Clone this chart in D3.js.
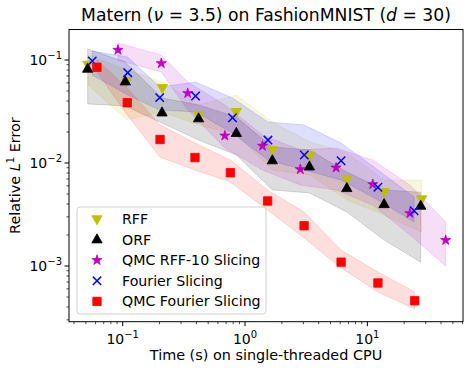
<!DOCTYPE html>
<html>
<head>
<meta charset="utf-8" />
<title>Matern on FashionMNIST</title>
<script src="https://d3js.org/d3.v7.min.js"></script>
<style>
  body { margin: 0; padding: 0; background: #fff; }
  svg text { font-family: "DejaVu Sans", sans-serif; fill: #000; }
</style>
</head>
<body>
<div id="chart"></div>
<script>

// values (time in s, relative L1 error)
const rffTime = [0.052, 0.108, 0.211, 0.418, 0.849, 1.68, 3.40, 6.82, 13.7, 27.8]
const rffErr  = [0.0904, 0.0630, 0.0538, 0.0292, 0.0315, 0.01337, 0.01183, 0.0070, 0.00526, 0.00447]
const rffLo   = [0.0572, 0.0262, 0.0313, 0.0234, 0.0187, 0.00855, 0.00765, 0.00437, 0.00313, 0.00214]
const rffHi   = [0.112, 0.080, 0.0612, 0.0366, 0.0457, 0.0250, 0.0160, 0.0125, 0.00684, 0.00684]

const orfTime = [0.0517, 0.105, 0.2096, 0.417, 0.849, 1.672, 3.36, 6.79, 13.7, 27.3]
const orfErr  = [0.0818, 0.0616, 0.0308, 0.0270, 0.01947, 0.01057, 0.00921, 0.00568, 0.00397, 0.00383]
const orfLo   = [0.0374, 0.0358, 0.0245, 0.0167, 0.01197, 0.00547, 0.00512, 0.00334, 0.00179, 0.00109]
const orfHi   = [0.128, 0.0956, 0.0428, 0.0366, 0.0280, 0.0143, 0.01337, 0.00818, 0.00547, 0.0052]

const qrffTime = [0.0915, 0.2068, 0.340, 0.684, 1.39, 2.83, 5.55, 11.07, 22.3, 43.7]
const qrffErr  = [0.125, 0.0928, 0.0475, 0.0184, 0.01463, 0.00868, 0.0090, 0.00621, 0.00325, 0.00178]
const qrffLo   = [0.100, 0.0765, 0.0327, 0.0140, 0.00855, 0.00611, 0.00547, 0.00391, 0.00200, 0.00100]
const qrffHi   = [0.146, 0.112, 0.0612, 0.0366, 0.0187, 0.01337, 0.0140, 0.01069, 0.00611, 0.00267]

const fsTime = [0.0564, 0.1099, 0.2007, 0.394, 0.790, 1.54, 3.05, 6.10, 12.2, 24.1]
const fsErr  = [0.0978, 0.0753, 0.0431, 0.0447, 0.0275, 0.0167, 0.01197, 0.01052, 0.00581, 0.00344]
const fsLo   = [0.0715, 0.0457, 0.0327, 0.0313, 0.01956, 0.01069, 0.00855, 0.00684, 0.00437, 0.00267]
const fsHi   = [0.122, 0.107, 0.0547, 0.0612, 0.0428, 0.0250, 0.0234, 0.01563, 0.00855, 0.00468]

const qfsTime = [0.0616, 0.109, 0.202, 0.390, 0.759, 1.53, 3.04, 6.10, 12.2, 24.4]
const qfsErr  = [0.0849, 0.0385, 0.0169, 0.0113, 0.00805, 0.00428, 0.00246, 0.00109, 0.000684, 0.00046]
const qfsLo   = [0.0765, 0.0292, 0.0114, 0.00855, 0.00654, 0.00350, 0.00187, 0.000957, 0.000560, 0.000383]
const qfsHi   = [0.100, 0.0535, 0.0234, 0.01563, 0.01069, 0.00547, 0.00334, 0.00143, 0.000875, 0.000560]

const xTicks = [0.1, 1, 10]
const xTickExp = ['−1', '0', '1']
const yTicks = [0.1, 0.01, 0.001]
const yTickExp = ['−1', '−2', '−3']

const series = [
  {name: 'RFF', t: rffTime, e: rffErr, lo: rffLo, hi: rffHi, color: '#bfbf00', marker: 'down'},
  {name: 'ORF', t: orfTime, e: orfErr, lo: orfLo, hi: orfHi, color: '#000000', marker: 'up'},
  {name: 'QMC RFF-10 Slicing', t: qrffTime, e: qrffErr, lo: qrffLo, hi: qrffHi, color: '#bf00bf', marker: 'star'},
  {name: 'Fourier Slicing', t: fsTime, e: fsErr, lo: fsLo, hi: fsHi, color: '#0000ff', marker: 'x'},
  {name: 'QMC Fourier Slicing', t: qfsTime, e: qfsErr, lo: qfsLo, hi: qfsHi, color: '#ff0000', marker: 'square'}
]

const W = 472, H = 372
const margin = {top: 29.5, right: 9, bottom: 50.3, left: 69}
const width = W - margin.left - margin.right
const height = H - margin.top - margin.bottom

const svg = d3.select('#chart').append('svg')
  .attr('width', W).attr('height', H)

const g = svg.append('g')
  .attr('transform', 'translate(' + margin.left + ',' + margin.top + ')')

const x = d3.scaleLog().domain([0.0364, 60.5]).range([0, width])
const y = d3.scaleLog().domain([0.000288, 0.1977]).range([height, 0])

g.append('clipPath').attr('id', 'clip')
  .append('rect').attr('width', width).attr('height', height)

const plot = g.append('g').attr('clip-path', 'url(#clip)')

// shaded bands
series.forEach(s => {
  const pts = s.t.map((t, i) => ({t: t, lo: s.lo[i], hi: s.hi[i]}))
  plot.append('path')
    .datum(pts)
    .attr('fill', s.color)
    .attr('fill-opacity', 0.13)
    .attr('stroke', s.color)
    .attr('stroke-opacity', 0.13)
    .attr('stroke-width', 1)
    .attr('d', d3.area()
      .x(d => x(d.t))
      .y0(d => y(d.lo))
      .y1(d => y(d.hi)))
})

const markerPath = (type) => {
  if (type === 'up') return 'M0,-5.8L5.2,3.3L-5.2,3.3Z'
  if (type === 'down') return 'M0,5.8L5.2,-3.3L-5.2,-3.3Z'
  if (type === 'square') return 'M-4.2,-4.2H4.2V4.2H-4.2Z'
  if (type === 'x') return 'M-4.2,-4.2L4.2,4.2M-4.2,4.2L4.2,-4.2'
  if (type === 'star') return d3.symbol().type(d3.symbolStar).size(32)()
}

const drawMarker = (sel, s) => {
  const p = sel.append('path').attr('d', markerPath(s.marker))
  if (s.marker === 'x') {
    p.attr('fill', 'none').attr('stroke', s.color).attr('stroke-width', 1.5)
  } else {
    p.attr('fill', s.color).attr('stroke', s.color).attr('stroke-width', 0.8)
  }
}

series.forEach(s => {
  s.t.forEach((t, i) => {
    const m = plot.append('g').attr('transform', 'translate(' + x(t) + ',' + y(s.e[i]) + ')')
    drawMarker(m, s)
  })
})

// axes frame
g.append('rect').attr('width', width).attr('height', height)
  .attr('fill', 'none').attr('stroke', '#000').attr('stroke-width', 1)

// x ticks
const xMinor = []
for (let p = -2; p <= 1; p++) for (let k = 2; k <= 9; k++) {
  const v = k * Math.pow(10, p)
  if (v > x.domain()[0] && v < x.domain()[1]) xMinor.push(v)
}
const xAxis = g.append('g').attr('transform', 'translate(0,' + height + ')')
xAxis.selectAll('.minor').data(xMinor).enter().append('line')
  .attr('x1', d => x(d)).attr('x2', d => x(d)).attr('y1', 0).attr('y2', 2.5)
  .attr('stroke', '#000').attr('stroke-width', 0.7)
xAxis.selectAll('.major').data(xTicks).enter().append('line')
  .attr('x1', d => x(d)).attr('x2', d => x(d)).attr('y1', 0).attr('y2', 4.5)
  .attr('stroke', '#000').attr('stroke-width', 1)
const xl = xAxis.selectAll('.lab').data(xTicks).enter().append('text')
  .attr('x', d => x(d)).attr('y', 22).attr('text-anchor', 'middle')
  .style('font-size', '14px')
xl.append('tspan').text('10')
xl.append('tspan').attr('dy', -6).style('font-size', '10px').text((d, i) => xTickExp[i])

// y ticks
const yMinor = []
for (let p = -4; p <= -1; p++) for (let k = 2; k <= 9; k++) {
  const v = k * Math.pow(10, p)
  if (v > y.domain()[0] && v < y.domain()[1]) yMinor.push(v)
}
const yAxis = g.append('g')
yAxis.selectAll('.minor').data(yMinor).enter().append('line')
  .attr('y1', d => y(d)).attr('y2', d => y(d)).attr('x1', 0).attr('x2', -2.5)
  .attr('stroke', '#000').attr('stroke-width', 0.7)
yAxis.selectAll('.major').data(yTicks).enter().append('line')
  .attr('y1', d => y(d)).attr('y2', d => y(d)).attr('x1', 0).attr('x2', -4.5)
  .attr('stroke', '#000').attr('stroke-width', 1)
const yl = yAxis.selectAll('.lab').data(yTicks).enter().append('text')
  .attr('x', -7).attr('y', d => y(d) + 5).attr('text-anchor', 'end')
  .style('font-size', '14px')
yl.append('tspan').text('10')
yl.append('tspan').attr('dy', -6).style('font-size', '10px').text((d, i) => yTickExp[i])

// labels
const title = svg.append('text').attr('x', margin.left + width / 2).attr('y', 21)
  .attr('text-anchor', 'middle').style('font-size', '17.2px')
title.append('tspan').text('Matern (')
title.append('tspan').style('font-style', 'italic').text('ν')
title.append('tspan').text(' = 3.5) on FashionMNIST (')
title.append('tspan').style('font-style', 'italic').text('d')
title.append('tspan').text(' = 30)')

svg.append('text').attr('x', margin.left + width / 2).attr('y', 360)
  .attr('text-anchor', 'middle').style('font-size', '14.4px')
  .text('Time (s) on single-threaded CPU')

const ylab = svg.append('text')
  .attr('transform', 'translate(20,' + (margin.top + height / 2) + ') rotate(-90)')
  .attr('text-anchor', 'middle').style('font-size', '14.4px')
ylab.append('tspan').text('Relative ')
ylab.append('tspan').style('font-style', 'italic').text('L')
ylab.append('tspan').attr('dy', -6).style('font-size', '10px').text('1')
ylab.append('tspan').attr('dy', 6).text(' Error')

// legend
const leg = svg.append('g').attr('transform', 'translate(77,207)')
leg.append('rect').attr('width', 189).attr('height', 107).attr('rx', 3)
  .attr('fill', '#fff').attr('fill-opacity', 0.8)
  .attr('stroke', '#d0d0d0').attr('stroke-width', 1)
series.forEach((s, i) => {
  const row = leg.append('g').attr('transform', 'translate(0,' + (12 + i * 20.6) + ')')
  const m = row.append('g').attr('transform', 'translate(20,0)')
  drawMarker(m, s)
  row.append('text').attr('x', 45).attr('y', 5).style('font-size', '14.2px').text(s.name)
})
</script>
</body>
</html>
